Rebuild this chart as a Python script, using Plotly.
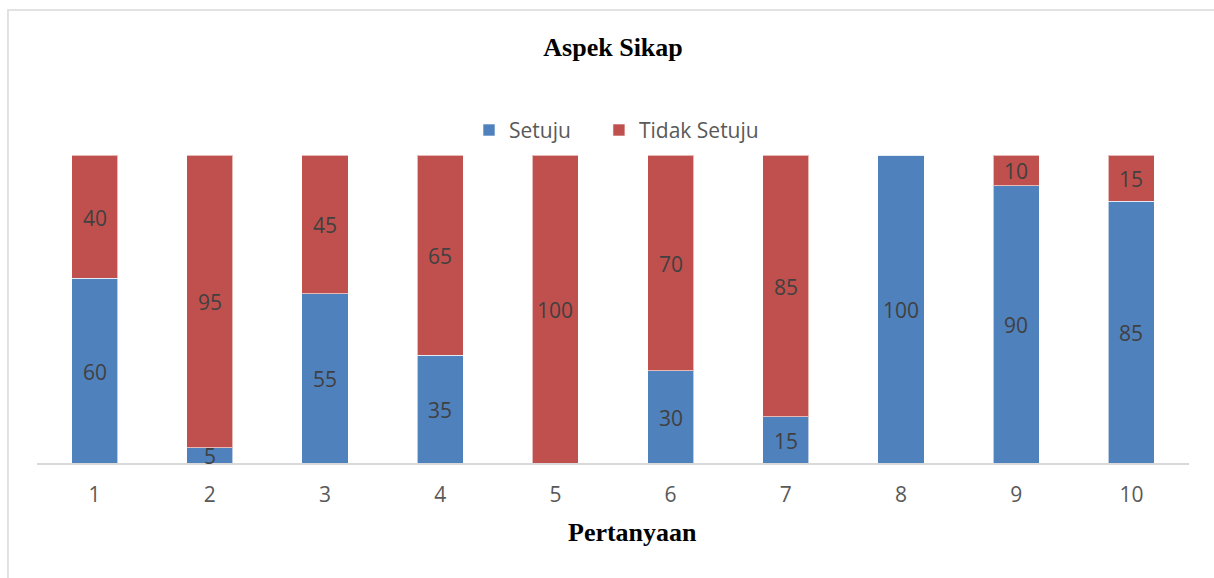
import plotly.graph_objects as go

# Survey results per question (percent)
questions = ["1", "2", "3", "4", "5", "6", "7", "8", "9", "10"]
setuju = [60, 5, 55, 35, 0, 30, 15, 100, 90, 85]
tidak_setuju = [40, 95, 45, 65, 100, 70, 85, 0, 10, 15]

BLUE = "#4F81BD"
RED = "#C0504D"
SANS = "Open Sans, Noto Sans, sans-serif"
SERIF = "Liberation Serif, Times New Roman, serif"
LABEL_FONT = dict(family=SANS, size=21, color="#404040")
LEGEND_FONT = dict(family=SANS, size=21, color="#595959")

fig = go.Figure()
fig.add_trace(go.Bar(
    x=questions, y=setuju, name="Setuju", legend="legend", showlegend=True,
    marker=dict(color=BLUE, line=dict(color="rgba(255,255,255,0.6)", width=1)),
    hoverinfo="y",
))
fig.add_trace(go.Bar(
    x=questions, y=tidak_setuju, name="Tidak Setuju", legend="legend2", showlegend=True,
    marker=dict(color=RED, line=dict(color="rgba(255,255,255,0.6)", width=1)),
    hoverinfo="y",
))

# Value labels centred in each non-empty segment
# (annotations on a category axis are positioned by category index)
annotations = []
for i, (a, b) in enumerate(zip(setuju, tidak_setuju)):
    if a:
        annotations.append(dict(x=i, y=a / 2, text=str(a)))
    if b:
        annotations.append(dict(x=i, y=a + b / 2, text=str(b)))
for ann in annotations:
    ann.update(xref="x", yref="y", showarrow=False, font=LABEL_FONT,
               xanchor="center", yanchor="middle", yshift=-1)

# x-axis title
annotations.append(dict(
    text="<b>Pertanyaan</b>", xref="paper", yref="paper", x=0.517, y=-0.227,
    xanchor="center", yanchor="middle", showarrow=False,
    font=dict(family=SERIF, size=26, color="black"),
))

fig.update_layout(
    width=1214, height=578,
    barmode="stack", bargap=0.6,
    paper_bgcolor="white", plot_bgcolor="white",
    margin=dict(l=37, r=25, t=155, b=115),
    title=dict(
        text="<b>Aspek Sikap</b>", x=0.505, xanchor="center", y=0.918, yanchor="middle",
        font=dict(family=SERIF, size=26, color="black"),
    ),
    legend=dict(
        orientation="h", x=0.375, xanchor="left", y=1.08, yanchor="middle",
        font=LEGEND_FONT, itemwidth=30, bgcolor="rgba(0,0,0,0)", visible=True,
    ),
    legend2=dict(
        orientation="h", x=0.4878, xanchor="left", y=1.08, yanchor="middle",
        font=LEGEND_FONT, itemwidth=30, bgcolor="rgba(0,0,0,0)", visible=True,
    ),
    xaxis=dict(
        type="category", categoryorder="array", categoryarray=questions,
        range=[-0.5, len(questions) - 0.5],
        showgrid=False, showline=True, linecolor="#D9D9D9", linewidth=1.5,
        ticks="", tickfont=dict(family=SANS, size=21, color="#595959"),
        ticklabelstandoff=12,
    ),
    yaxis=dict(range=[0, 100], visible=False, showgrid=False),
    annotations=annotations,
    shapes=[dict(
        type="rect", xref="paper", yref="paper",
        x0=-0.0252, x1=1.05, y0=-0.6, y1=1.4708,
        line=dict(color="#D9D9D9", width=1.5), fillcolor="rgba(0,0,0,0)", layer="below",
    )],
)

fig.write_html("out.html")
